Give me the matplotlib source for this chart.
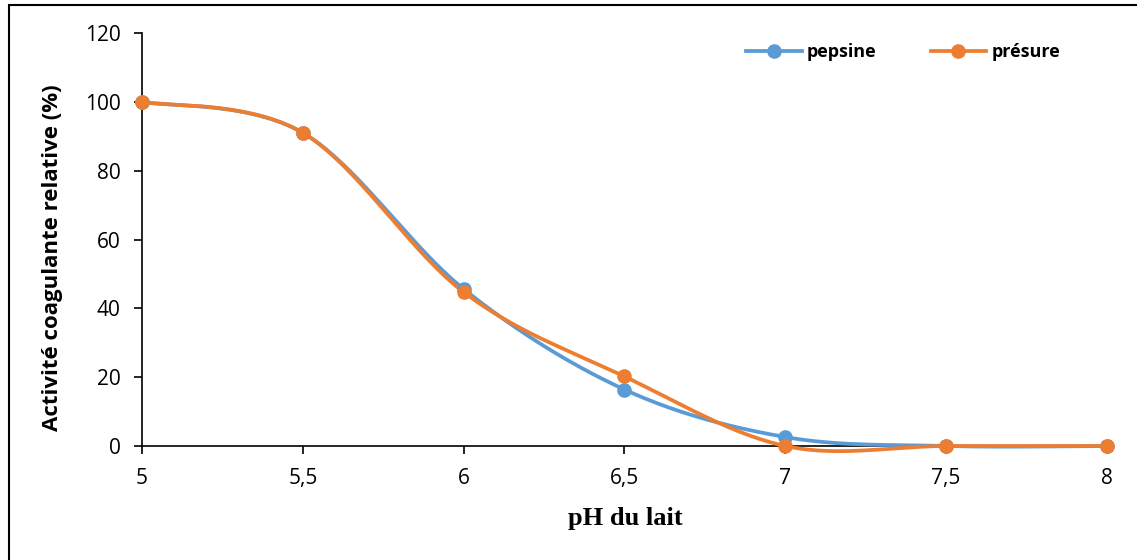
import numpy as np
import matplotlib
matplotlib.use("Agg")
import matplotlib.pyplot as plt
from matplotlib.lines import Line2D
from matplotlib.patches import Rectangle

ph = [5, 5.5, 6, 6.5, 7, 7.5, 8]
pepsine = [100, 91, 45.6, 16.4, 2.6, 0, 0]
presure = [100, 91, 44.7, 20.2, 0, 0, 0]
xticks = [5, 5.5, 6, 6.5, 7, 7.5, 8]
xticklabels = ["5", "5,5", "6", "6,5", "7", "7,5", "8"]
yticks = [0, 20, 40, 60, 80, 100, 120]

blue = "#5B9BD5"
orange = "#ED7D31"

W, H = 1137, 560


def smooth(xs, ys, n=40):
    P = np.column_stack([xs, ys]).astype(float)
    out = []
    m = len(P)
    for i in range(m - 1):
        p0 = P[i - 1] if i > 0 else P[i]
        p1 = P[i]
        p2 = P[i + 1]
        p3 = P[i + 2] if i + 2 < m else P[i + 1]
        c1 = p1 + (p2 - p0) / 6.0
        c2 = p2 - (p3 - p1) / 6.0
        t = np.linspace(0, 1, n)[:, None]
        seg = ((1 - t) ** 3) * p1 + 3 * ((1 - t) ** 2) * t * c1 + 3 * (1 - t) * t ** 2 * c2 + t ** 3 * p2
        out.append(seg if i == 0 else seg[1:])
    arr = np.vstack(out)
    return arr[:, 0], arr[:, 1]


fig = plt.figure(figsize=(W / 100, H / 100), dpi=100)
ax = fig.add_axes([142 / W, 1 - 446 / H, (1107 - 142) / W, (446 - 33) / H])

for ys, col in [(pepsine, blue), (presure, orange)]:
    sx, sy = smooth(ph, ys)
    ax.plot(sx, sy, color=col, lw=2.7, solid_capstyle="round", clip_on=False, zorder=3)
    ax.plot(ph, ys, "o", color=col, ms=9.5, clip_on=False, zorder=4)

ax.set_xlim(5, 8)
ax.set_ylim(0, 120)
ax.set_xticks(xticks)
ax.set_xticklabels(xticklabels)
ax.set_yticks(yticks)
for s in ["top", "right"]:
    ax.spines[s].set_visible(False)
for s in ["left", "bottom"]:
    ax.spines[s].set_color("black")
    ax.spines[s].set_linewidth(1.2)
ax.tick_params(axis="both", direction="out", length=5.5, width=1.2, labelsize=15, colors="black")
ax.tick_params(axis="x", pad=10)
ax.tick_params(axis="y", pad=10)
for lab in ax.get_xticklabels() + ax.get_yticklabels():
    lab.set_family("Open Sans")

fig.text(625 / W, 1 - 518 / H, "pH du lait", family="Liberation Serif", fontweight="bold",
         fontsize=19, ha="center", va="center")
fig.text(53 / W, 1 - 258 / H, "Activité coagulante relative (%)", family="Open Sans", fontweight="bold",
         fontsize=16, ha="center", va="center", rotation=90)

handles = [
    Line2D([], [], color=blue, lw=2.7, marker="o", ms=9.5),
    Line2D([], [], color=orange, lw=2.7, marker="o", ms=9.5),
]
leg = fig.legend(handles, ["pepsine", "présure"], loc="center right",
                 bbox_to_anchor=(1060 / W, 1 - 52 / H), ncol=2,
                 frameon=False, handlelength=3.05, columnspacing=3.0, handletextpad=0.3,
                 borderpad=0, borderaxespad=0,
                 prop={"family": "Open Sans", "weight": "bold", "size": 13})

fig.patches.append(Rectangle((9 / W, -0.2), 1.5, 1 - 5 / H + 0.2, transform=fig.transFigure,
                             fill=False, edgecolor="black", lw=1.5, clip_on=False))

fig.savefig("out.png", dpi=100)
